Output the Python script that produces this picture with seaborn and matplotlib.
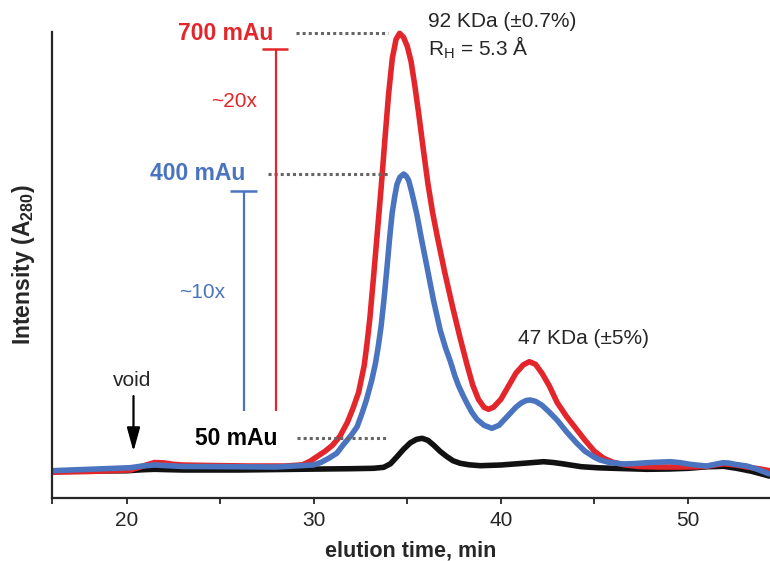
import numpy as np
import pandas as pd
import matplotlib
matplotlib.use("Agg")
import matplotlib.pyplot as plt
import seaborn as sns

# ---- elution traces (display intensity, arbitrary units) ----
red_time = [16.0, 18.0, 20.2, 20.6, 21.0, 21.5, 22.0, 22.5, 23.0, 24.5, 26.5, 28.5,
            29.4, 29.8, 30.2, 30.6, 31.0, 31.4, 31.8, 32.1, 32.4, 32.7, 32.85, 33.0,
            33.2, 33.4, 33.6, 33.8, 34.0, 34.2, 34.4, 34.59, 34.8, 35.0, 35.2, 35.4,
            35.6, 35.87, 36.1, 36.35, 36.6, 37.0, 37.4, 37.8, 38.2, 38.5, 38.8, 39.1,
            39.34, 39.6, 40.0, 40.4, 40.8, 41.2, 41.52, 41.85, 42.2, 42.6, 43.0,
            43.5, 44.0, 44.5, 45.0, 45.5, 46.0, 46.6, 47.4, 48.5, 49.6, 50.5, 51.0,
            51.5, 51.9, 52.5, 53.1, 53.8, 54.4]
red_int = [26.0, 26.8, 28.3, 30.5, 33.0, 35.8, 35.4, 34.0, 33.3, 32.8, 32.3, 32.3,
           33.5, 37.0, 42.0, 47.0, 53.0, 62.0, 76.0, 90.0, 106.0, 133.0, 155.0, 180.0,
           222.0, 266.0, 310.0, 358.0, 404.0, 440.0, 459.0, 465.0, 461.0, 452.0,
           437.0, 413.0, 386.0, 347.0, 315.0, 286.0, 262.0, 226.0, 193.0, 162.0,
           133.0, 113.0, 99.0, 91.0, 89.0, 91.0, 99.0, 112.0, 125.0, 133.5, 136.6,
           134.0, 125.0, 112.0, 96.0, 82.0, 70.0, 58.0, 47.0, 40.0, 36.0, 33.5,
           31.8, 31.3, 31.3, 31.5, 32.0, 33.5, 34.5, 33.5, 31.5, 29.5, 27.5]

blue_time = [16.0, 18.0, 20.2, 20.8, 21.5, 22.2, 23.0, 25.5, 28.0, 29.98, 30.4, 30.8,
             31.23, 31.6, 32.0, 32.32, 32.6, 32.81, 33.1, 33.3, 33.45, 33.6, 33.75,
             33.92, 34.05, 34.19, 34.33, 34.45, 34.6, 34.81, 34.95, 35.07, 35.2,
             35.34, 35.52, 35.75, 36.05, 36.4, 36.76, 37.05, 37.3, 37.55, 37.73,
             38.0, 38.19, 38.45, 38.72, 39.1, 39.52, 39.9, 40.2, 40.5, 40.8, 41.1,
             41.35, 41.57, 41.85, 42.2, 42.6, 43.0, 43.53, 44.06, 44.5, 45.0, 45.3,
             45.8, 46.55, 47.2, 47.8, 48.5, 49.04, 49.6, 50.1, 50.6, 51.0, 51.4,
             51.87, 52.2, 52.5, 53.14, 53.7, 54.4]
blue_int = [27.6, 29.0, 30.6, 32.2, 33.3, 32.6, 31.8, 31.6, 31.3, 33.3, 36.0, 40.0,
            45.0, 54.0, 63.0, 71.6, 86.0, 98.0, 118.0, 135.0, 152.0, 172.0, 198.0,
            231.6, 259.0, 285.0, 302.0, 314.0, 321.0, 324.3, 322.0, 318.0, 309.0,
            298.0, 283.0, 260.0, 231.6, 198.0, 168.0, 150.0, 137.0, 122.0, 113.0,
            102.0, 95.0, 86.0, 79.0, 73.0, 70.0, 73.0, 79.0, 85.0, 91.0, 95.5,
            97.8, 98.3, 97.0, 93.0, 86.0, 78.3, 66.0, 55.0, 47.0, 41.0, 38.3,
            35.8, 34.3, 34.8, 35.6, 36.2, 36.6, 35.6, 34.0, 33.0, 32.3, 33.8,
            35.6, 35.2, 34.0, 32.3, 29.0, 24.0]

black_time = [16.0, 18.0, 20.0, 20.8, 21.5, 22.3, 23.0, 26.0, 30.0, 32.0, 33.2,
              33.74, 34.1, 34.45, 34.8, 35.16, 35.5, 35.79, 36.1, 36.4, 36.75,
              37.12, 37.45, 37.83, 38.3, 38.9, 40.0, 41.2, 42.28, 42.8, 43.3, 44.3,
              45.2, 46.0, 47.8, 49.0, 50.0, 51.0, 51.9, 52.6, 53.4, 54.4]
black_int = [27.3, 27.3, 27.5, 28.5, 29.0, 28.6, 28.3, 28.3, 29.2, 29.6, 30.0,
             31.0, 34.5, 41.6, 49.0, 55.5, 59.0, 60.0, 58.0, 53.3, 47.0,
             41.6, 37.5, 35.0, 33.5, 32.6, 33.3, 35.0, 36.6, 35.8, 34.5, 31.6,
             30.5, 30.0, 29.0, 29.3, 30.0, 31.5, 32.0, 30.0, 27.0, 22.0]

trace_names = ["50 mAu", "700 mAu", "400 mAu"]
x_ticks = [20, 30, 40, 50]
x_minor = [16, 25, 35, 45]

RED = "#E3262B"
BLUE = "#4A74BF"
BLACK = "#111111"
GRAY = "#666666"

df = pd.concat([
    pd.DataFrame({"time": black_time, "intensity": black_int, "trace": trace_names[0]}),
    pd.DataFrame({"time": red_time, "intensity": red_int, "trace": trace_names[1]}),
    pd.DataFrame({"time": blue_time, "intensity": blue_int, "trace": trace_names[2]}),
], ignore_index=True)

sns.set_style("ticks")
plt.rcParams["font.family"] = ["Liberation Sans", "DejaVu Sans"]
plt.rcParams["mathtext.fontset"] = "custom"
plt.rcParams["mathtext.rm"] = "Liberation Sans"
plt.rcParams["mathtext.it"] = "Liberation Sans:italic"
plt.rcParams["mathtext.bf"] = "Liberation Sans:bold"

fig = plt.figure(figsize=(7.7, 5.61), dpi=100)
ax = fig.add_axes([51.7 / 770, (561 - 498.3) / 561, 1 - 51.7 / 770, 466.3 / 561])

palette = {trace_names[0]: BLACK, trace_names[1]: RED, trace_names[2]: BLUE}
sns.lineplot(data=df, x="time", y="intensity", hue="trace", hue_order=trace_names,
             palette=palette, sort=False, estimator=None, legend=False, ax=ax,
             linewidth=4.0, solid_joinstyle="round", solid_capstyle="butt")
for ln in ax.lines:
    ln.set_clip_on(False)

ax.set_xlim(16, 54.38)
ax.set_ylim(0, 466.3)

# dotted guides from the peak labels to the peak maxima
peak_red = max(red_int)
peak_blue = max(blue_int)
peak_black = max(black_int)
dot = dict(colors=GRAY, linestyles=(0, (1, 1)), linewidth=2.2)
ax.hlines(peak_red, 29.08, 33.99, **dot)
ax.hlines(peak_blue, 27.58, 33.99, **dot)
ax.hlines(peak_black, 29.13, 33.99, **dot)

ax.text(27.85, peak_red, "700 mAu", color=RED, fontsize=16.5, fontweight="bold",
        ha="right", va="center")
ax.text(26.35, peak_blue, "400 mAu", color=BLUE, fontsize=16.5, fontweight="bold",
        ha="right", va="center")
ax.text(28.06, peak_black, "50 mAu", color="black", fontsize=16.5, fontweight="bold",
        ha="right", va="center")

# fold-difference bars
bar_bottom = 87.3
ax.vlines(27.96, bar_bottom, 449, color=RED, linewidth=1.6)
ax.hlines(449, 27.26, 28.65, color=RED, linewidth=1.8)
ax.vlines(26.25, bar_bottom, 307.6, color=BLUE, linewidth=1.6)
ax.hlines(307.6, 25.55, 26.99, color=BLUE, linewidth=1.8)
ax.text(26.99, 396.6, "~20x", color=RED, fontsize=15, ha="right", va="center")
ax.text(25.29, 206, "~10x", color=BLUE, fontsize=15, ha="right", va="center")

# void volume marker
ax.annotate("", xy=(20.37, 44), xytext=(20.37, 105),
            arrowprops=dict(arrowstyle="-|>,head_length=0.8,head_width=0.22",
                            color="black", lw=1.6, mutation_scale=18))
ax.text(20.27, 118, "void", fontsize=15, ha="center", va="center")

# peak annotations
ax.text(36.12, 476.6, "92 KDa (\u00b10.7%)", fontsize=15, ha="left", va="center")
ax.text(36.12, 450, "R$_\\mathrm{H}$ = 5.3 \u00c5", fontsize=15, ha="left", va="center")
ax.text(40.93, 160, "47 KDa (\u00b15%)", fontsize=15, ha="left", va="center")

# axes styling
sns.despine(ax=ax)
ax.spines["left"].set_linewidth(1.6)
ax.spines["bottom"].set_linewidth(1.6)
ax.set_xticks(x_ticks)
ax.set_xticks(x_minor, minor=True)
ax.set_yticks([])
ax.tick_params(axis="x", which="both", length=4, width=1.3, direction="out",
               labelsize=15, pad=5.5)
ax.set_xlabel("elution time, min", fontsize=15.5, fontweight="bold", labelpad=7)
ax.set_ylabel("Intensity (A$_{\\mathbf{280}}$)", fontsize=16.5, fontweight="bold")
ax.yaxis.set_label_coords(-0.02, 0.5)

fig.savefig("out.png", dpi=100)
